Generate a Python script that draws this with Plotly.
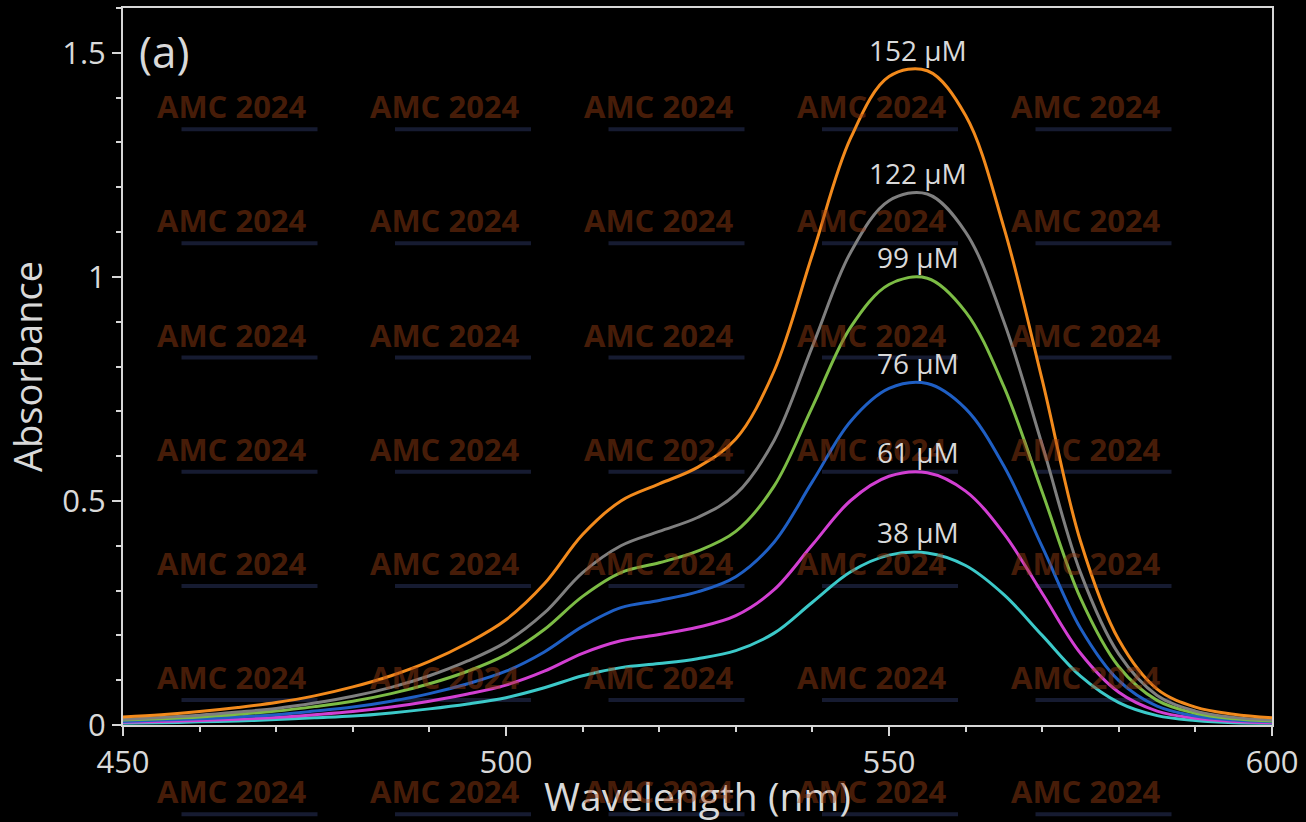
import plotly.graph_objects as go

# ---------------- data ----------------
wavelength = [450, 455, 460, 465, 470, 475, 480, 485, 490, 495, 500, 505, 510, 515, 520, 525,
              530, 535, 540, 545, 550, 555, 560, 565, 570, 575, 580, 585, 590, 595, 600]

abs_152 = [0.018, 0.023, 0.030, 0.039, 0.050, 0.065, 0.085, 0.110, 0.142, 0.183, 0.235, 0.315, 0.425, 0.500, 0.538, 0.575,
           0.638, 0.790, 1.050, 1.310, 1.447, 1.460, 1.360, 1.110, 0.770, 0.410, 0.190, 0.080, 0.040, 0.024, 0.016]
abs_122 = [0.013, 0.017, 0.022, 0.029, 0.037, 0.049, 0.064, 0.084, 0.110, 0.143, 0.185, 0.250, 0.340, 0.400, 0.432, 0.463,
           0.515, 0.635, 0.845, 1.055, 1.170, 1.185, 1.100, 0.900, 0.625, 0.340, 0.158, 0.066, 0.031, 0.017, 0.011]
abs_99 = [0.011, 0.014, 0.018, 0.024, 0.031, 0.041, 0.053, 0.070, 0.092, 0.120, 0.157, 0.213, 0.287, 0.340, 0.362, 0.388,
          0.432, 0.533, 0.710, 0.888, 0.983, 0.997, 0.922, 0.755, 0.520, 0.283, 0.130, 0.055, 0.026, 0.014, 0.009]
abs_76 = [0.008, 0.011, 0.014, 0.018, 0.023, 0.031, 0.040, 0.053, 0.070, 0.092, 0.120, 0.163, 0.220, 0.262, 0.278, 0.297,
          0.331, 0.408, 0.543, 0.678, 0.751, 0.762, 0.706, 0.578, 0.398, 0.216, 0.099, 0.042, 0.020, 0.011, 0.007]
abs_61 = [0.006, 0.008, 0.010, 0.013, 0.017, 0.023, 0.030, 0.040, 0.053, 0.069, 0.089, 0.120, 0.160, 0.188, 0.202, 0.218,
          0.244, 0.302, 0.402, 0.501, 0.555, 0.563, 0.522, 0.427, 0.294, 0.160, 0.073, 0.031, 0.015, 0.008, 0.005]
abs_38 = [0.004, 0.005, 0.007, 0.009, 0.012, 0.016, 0.020, 0.027, 0.036, 0.047, 0.061, 0.083, 0.110, 0.128, 0.137, 0.148,
          0.166, 0.205, 0.274, 0.342, 0.379, 0.384, 0.356, 0.291, 0.200, 0.109, 0.050, 0.021, 0.010, 0.005, 0.004]

series_labels = ["38 μM", "61 μM", "76 μM", "99 μM", "122 μM", "152 μM"]
series_values = [abs_38, abs_61, abs_76, abs_99, abs_122, abs_152]
series_colors = ["#3cc9c9", "#d23fd2", "#1f5fc4", "#7cbc45", "#7f7f7f", "#f28a1c"]

x_ticks = [450, 500, 550, 600]
y_ticks = [0, 0.5, 1, 1.5]
y_ticktext = ["0", "0.5", "1", "1.5"]
label_wavelength = 553.8  # where the concentration labels sit

FONT = "Open Sans"
TXT = "#d9d9d9"
AX = "#d6d6d6"

W, H = 1306, 822
L, R, T, B = 123, 34, 6, 97
pw, ph = W - L - R, H - T - B

fig = go.Figure()
for lab, vals, col in zip(series_labels, series_values, series_colors):
    fig.add_trace(go.Scatter(x=wavelength, y=vals, mode="lines", name=lab,
                             line=dict(color=col, width=3, shape="spline", smoothing=1.0),
                             hoverinfo="skip", showlegend=False))

annotations = []
shapes = []
# faint "AMC 2024" watermark tiled over the picture (only fully visible tiles)
for i in range(1, 6):
    for j in range(1, 8):
        cx = 18 + i * 213.5
        cy = -10 + j * 114.5
        xp = (cx - L) / pw
        yp = (H - B - cy) / ph
        annotations.append(dict(x=xp, y=yp, xref="paper", yref="paper",
                                text="<b>AMC 2024</b>", showarrow=False,
                                xanchor="center", yanchor="middle",
                                font=dict(family=FONT, size=31, color="rgba(160,64,20,0.45)")))
        shapes.append(dict(type="line", xref="paper", yref="paper", layer="below",
                           x0=xp - 50 / pw, x1=xp + 86 / pw,
                           y0=yp - 23 / ph, y1=yp - 23 / ph,
                           line=dict(color="rgba(40,50,90,0.55)", width=4)))

# concentration labels above each peak
for lab, vals in zip(series_labels, series_values):
    annotations.append(dict(x=label_wavelength, y=max(vals), xref="x", yref="y", text=lab,
                            showarrow=False, xanchor="center", yanchor="bottom",
                            font=dict(family=FONT, size=28, color=TXT)))

annotations.append(dict(x=0.012, y=0.94, xref="paper", yref="paper", text="(a)", showarrow=False,
                        xanchor="left", yanchor="middle", font=dict(family=FONT, size=44, color=TXT)))

fig.update_layout(
    width=W, height=H,
    margin=dict(l=L, r=R, t=T, b=B),
    paper_bgcolor="black", plot_bgcolor="black",
    font=dict(family=FONT, color=TXT),
    annotations=annotations, shapes=shapes,
    showlegend=False,
)
fig.update_xaxes(range=[450, 600], tickvals=x_ticks, ticktext=[str(v) for v in x_ticks],
                 showgrid=False, zeroline=False,
                 showline=True, linecolor=AX, linewidth=2, mirror=True,
                 ticks="outside", ticklen=9, tickwidth=2, tickcolor=AX,
                 minor=dict(dtick=10, tick0=450, ticks="outside", ticklen=5, tickwidth=2, tickcolor=AX),
                 tickfont=dict(family=FONT, size=31, color=TXT),
                 title=dict(text="Wavelength (nm)", font=dict(family=FONT, size=39, color=TXT), standoff=5))
fig.update_yaxes(range=[0, 1.6], tickvals=y_ticks, ticktext=y_ticktext,
                 showgrid=False, zeroline=False,
                 showline=True, linecolor=AX, linewidth=2, mirror=True,
                 ticks="outside", ticklen=9, tickwidth=2, tickcolor=AX,
                 minor=dict(dtick=0.1, tick0=0, ticks="outside", ticklen=5, tickwidth=2, tickcolor=AX),
                 tickfont=dict(family=FONT, size=31, color=TXT),
                 title=dict(text="Absorbance", font=dict(family=FONT, size=38, color=TXT), standoff=8))

fig.write_html("out.html")
